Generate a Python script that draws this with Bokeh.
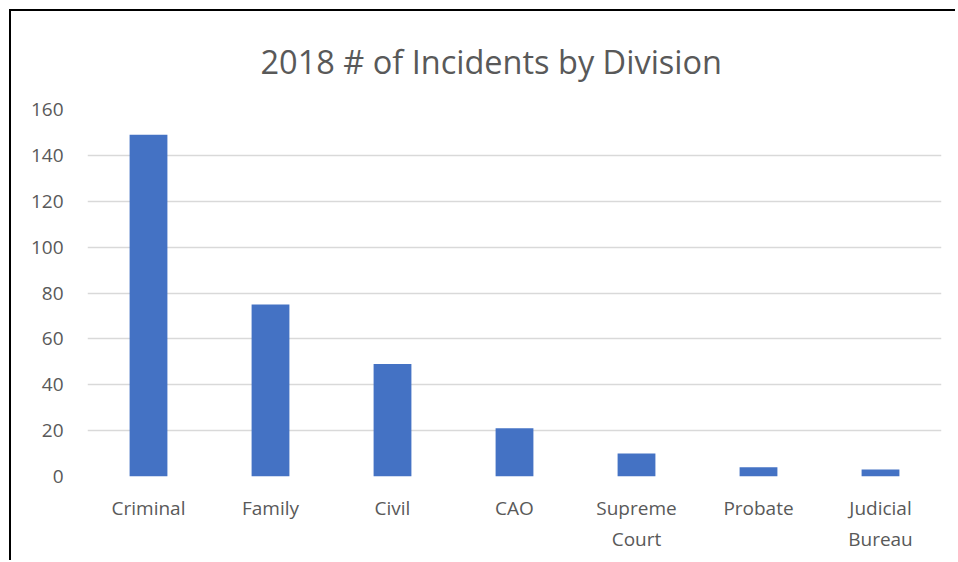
from bokeh.plotting import figure
from bokeh.models import Title, FactorRange
from bokeh.embed import file_html
from bokeh.resources import INLINE

divisions = ["Criminal", "Family", "Civil", "CAO", "Supreme Court", "Probate", "Judicial Bureau"]
incidents = [149, 75, 49, 21, 10, 4, 3]
y_ticks = [0, 20, 40, 60, 80, 100, 120, 140, 160]
label_overrides = {"Supreme Court": "Supreme\nCourt", "Judicial Bureau": "Judicial\nBureau"}
title_text = "2018 # of Incidents by Division"

x_labels = [label_overrides.get(d, d) for d in divisions]

TEXT = "#595959"
FONT = "Open Sans"

p = figure(x_range=FactorRange(*x_labels), y_range=(0, 160),
           width=946, height=551, output_backend="svg", toolbar_location=None,
           min_border_left=76, min_border_right=16, min_border_bottom=86, min_border_top=98)
p.styles = {"border-top": "2px solid #000000", "border-left": "2px solid #000000",
            "margin-top": "9px", "margin-left": "9px"}

t = Title(text=title_text, align="left", text_font=FONT,
          text_font_size="32.5px", text_color=TEXT, text_font_style="normal",
          offset=173, standoff=51)
p.add_layout(t, "above")

p.vbar(x=x_labels, top=incidents, width=0.31, color="#4472C4", line_color=None)

p.outline_line_color = None
p.xgrid.grid_line_color = None
p.ygrid.grid_line_color = "#D9D9D9"
p.ygrid.grid_line_width = 1.5
p.yaxis.ticker = y_ticks
for ax in (p.xaxis[0], p.yaxis[0]):
    ax.axis_line_color = None
    ax.major_tick_line_color = None
    ax.minor_tick_line_color = None
    ax.major_label_text_font = FONT
    ax.major_label_text_font_size = "19px"
    ax.major_label_text_color = TEXT
p.xaxis.major_label_standoff = 12
p.yaxis.major_label_standoff = 18

open("out.html", "w").write(file_html(p, INLINE))
